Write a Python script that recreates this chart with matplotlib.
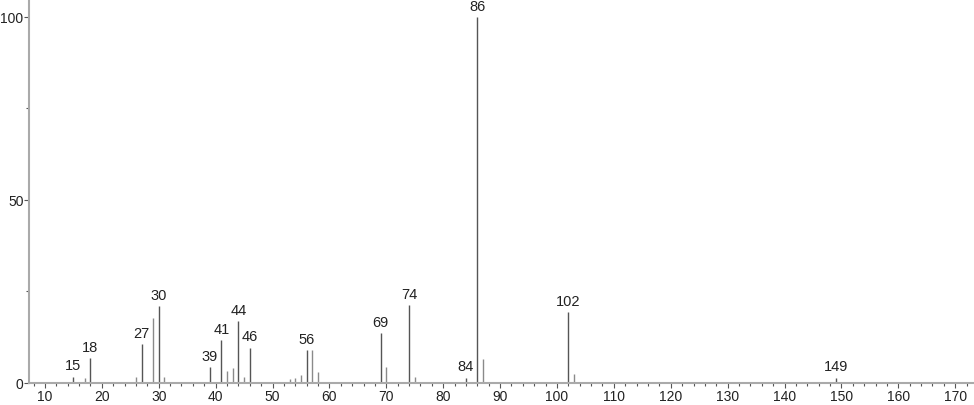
import matplotlib
matplotlib.use("Agg")
import matplotlib.pyplot as plt
from matplotlib.ticker import MultipleLocator

plt.rcParams['font.family'] = ['Liberation Sans', 'DejaVu Sans']

# m/z and relative intensity
mz = [15, 17, 18, 26, 27, 29, 30, 31, 39, 41, 42, 43, 44, 45, 46,
      53, 54, 55, 56, 57, 58, 69, 70, 74, 75, 84, 86, 87, 102, 103, 149]
intensity = [1.7, 1.5, 6.7, 1.7, 10.6, 17.7, 21.0, 1.6, 4.4, 11.7, 3.2, 4.0, 16.9, 1.7, 9.6,
             1.1, 1.5, 2.3, 9.0, 9.0, 2.9, 13.6, 4.4, 21.3, 1.7, 1.5, 100.0, 6.6, 19.3, 2.5, 1.4]
labels = {15: "15", 18: "18", 27: "27", 30: "30", 39: "39", 41: "41", 44: "44", 46: "46",
          56: "56", 69: "69", 74: "74", 84: "84", 86: "86", 102: "102", 149: "149"}

fig = plt.figure(figsize=(9.74, 4.06), dpi=100)
ax = fig.add_axes([29 / 974, 22 / 406, 945 / 974, 384 / 406])

for m, h in zip(mz, intensity):
    col = "#555555" if m in labels else "#8a8a8a"
    ax.vlines(m, 0, h, color=col, linewidth=1.0)
    if m in labels:
        ax.text(m, h + 1.2, labels[m], ha="center", va="bottom", fontsize=10.5, color="#222222")

ax.set_xlim(7.2, 173.3)
ax.set_ylim(0, 104.9)

ax.xaxis.set_major_locator(MultipleLocator(10))
ax.xaxis.set_minor_locator(MultipleLocator(2))
ax.set_xticks(range(10, 171, 10))
ax.set_yticks([0, 50, 100])
ax.yaxis.set_minor_locator(MultipleLocator(25))

for s in ["top", "right"]:
    ax.spines[s].set_visible(False)
ax.spines["left"].set_color("#aaaaaa")
ax.spines["bottom"].set_color("#aaaaaa")
ax.spines["left"].set_linewidth(1.5)
ax.spines["bottom"].set_linewidth(1.5)

ax.tick_params(axis="both", which="major", length=3.5, width=0.8, color="#555555",
               labelsize=10, labelcolor="#222222", pad=0.5)
ax.tick_params(axis="both", which="minor", length=2, width=0.8, color="#555555")

fig.savefig("out.png", dpi=100)
